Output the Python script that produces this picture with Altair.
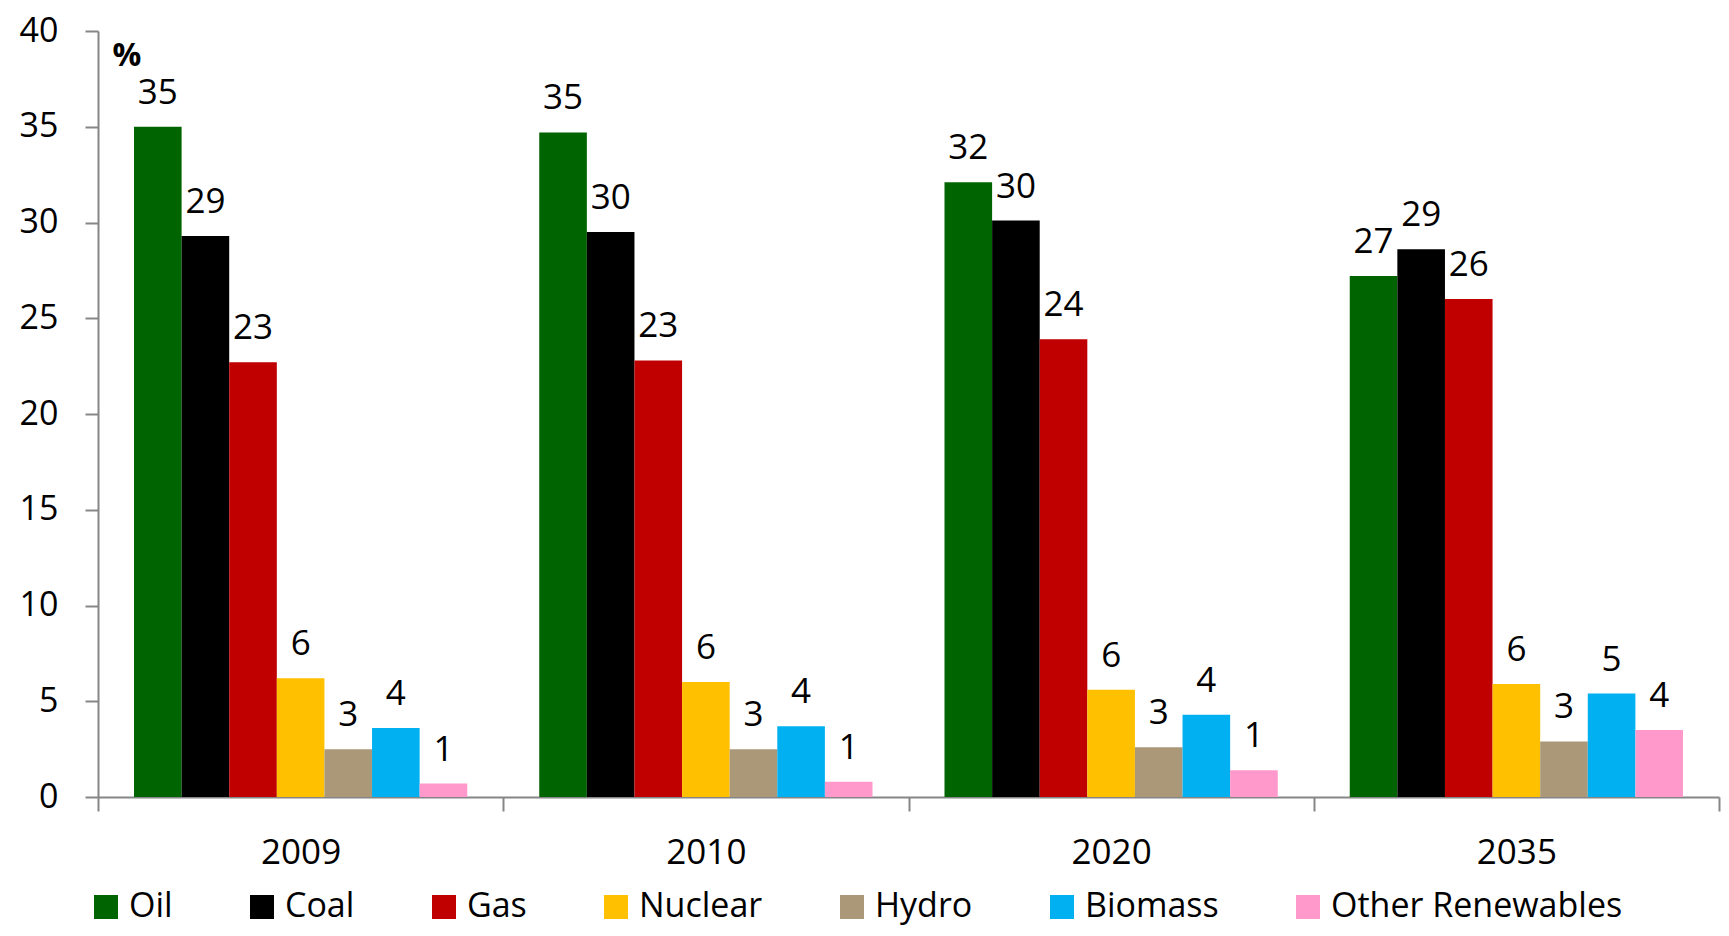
import altair as alt
import pandas as pd

years = ["2009", "2010", "2020", "2035"]
sources = ["Oil", "Coal", "Gas", "Nuclear", "Hydro", "Biomass", "Other Renewables"]
colors = ["#006400", "#000000", "#C00000", "#FFC000", "#AB9878", "#00B0F0", "#FF99CC"]

# bar heights (%), one list per source, in the order of `years`
oil = [35.0, 34.7, 32.1, 27.2]
coal = [29.3, 29.5, 30.1, 28.6]
gas = [22.7, 22.8, 23.9, 26.0]
nuclear = [6.2, 6.0, 5.6, 5.9]
hydro = [2.5, 2.5, 2.6, 2.9]
biomass = [3.6, 3.7, 4.3, 5.4]
other = [0.7, 0.8, 1.4, 3.5]

# printed data labels
lab_oil = ["35", "35", "32", "27"]
lab_coal = ["29", "30", "30", "29"]
lab_gas = ["23", "23", "24", "26"]
lab_nuclear = ["6", "6", "6", "6"]
lab_hydro = ["3", "3", "3", "3"]
lab_biomass = ["4", "4", "4", "5"]
lab_other = ["1", "1", "1", "4"]

series = [oil, coal, gas, nuclear, hydro, biomass, other]
labels = [lab_oil, lab_coal, lab_gas, lab_nuclear, lab_hydro, lab_biomass, lab_other]

rows = []
for s, vals, labs in zip(sources, series, labels):
    for y, v, l in zip(years, vals, labs):
        rows.append({"year": y, "source": s, "value": v, "label": l})
df = pd.DataFrame(rows)

FONT = "Open Sans"
GRAY = "#868686"

x_enc = alt.X(
    "year:N",
    sort=years,
    scale=alt.Scale(paddingInner=0, paddingOuter=0),
    axis=alt.Axis(
        title=None, labelAngle=0, tickBand="extent", tickSize=14,
        labelPadding=24, labelFontSize=35, labelFont=FONT, labelColor="#000000",
        domainColor=GRAY, tickColor=GRAY, domainWidth=2, tickWidth=2,
    ),
)
xoff_enc = alt.XOffset(
    "source:N", sort=sources, scale=alt.Scale(paddingOuter=0.756, paddingInner=0)
)
y_enc = alt.Y(
    "value:Q",
    scale=alt.Scale(domain=[0, 40], nice=False),
    axis=alt.Axis(
        values=list(range(0, 41, 5)), grid=False, tickSize=13, labelPadding=27,
        labelFontSize=34, labelFont=FONT, labelColor="#000000",
        domainColor=GRAY, tickColor=GRAY, domainWidth=2, tickWidth=2,
        title="%", titleAngle=0, titleX=14, titleY=24, titleAlign="left",
        titleBaseline="middle", titleFontWeight="bold", titleFontSize=32,
        titleFont=FONT, titleColor="#000000",
    ),
)

bars = alt.Chart(df).mark_bar().encode(
    x=x_enc,
    xOffset=xoff_enc,
    y=y_enc,
    color=alt.Color(
        "source:N",
        sort=sources,
        scale=alt.Scale(domain=sources, range=colors),
        legend=alt.Legend(
            title=None, orient="none", direction="horizontal", columns=7,
            legendX=-9, legendY=859, symbolType="square", symbolSize=576,
            symbolStrokeWidth=0, labelFontSize=34, labelFont=FONT,
            labelColor="#000000", labelOffset=6, columnPadding=72, padding=0,
            labelLimit=0,
        ),
    ),
)

texts = alt.Chart(df).mark_text(
    baseline="alphabetic", dy=-23, fontSize=35, font=FONT, color="#000000"
).encode(
    x=alt.X("year:N", sort=years),
    xOffset=alt.XOffset("source:N", sort=sources),
    y=alt.Y("value:Q"),
    text="label:N",
)

chart = (
    alt.layer(bars, texts)
    .properties(
        width=1621, height=766,
        autosize=alt.AutoSizeParams(type="none"),
        padding={"left": 90, "top": 23, "right": 2, "bottom": 131},
    )
    .configure_view(stroke=None)
)

chart.save("out.html", embed_options={"renderer": "svg", "actions": False})
